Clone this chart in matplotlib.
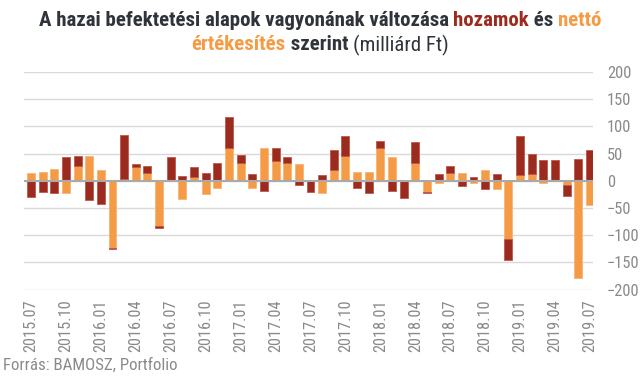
import matplotlib
matplotlib.use("Agg")
import matplotlib.pyplot as plt
from matplotlib import font_manager
import numpy as np

months = [f"{2015 + (6 + i) // 12}.{(6 + i) % 12 + 1:02d}" for i in range(49)]

# Net sales (nettó értékesítés), billion Ft
netto = [15, 16.5, 21, -23, 28, 46, 19, -124, 3, 26, 15, -84, 0, -34, 6, -25, -13.5,
         59.5, 33, -14, 60.7, 35.5, 33, 31, 0, -23, 20, 46, 17, 17, 59.5, 43, 0,
         33, -20, -5, 15, 15, -4, 19, -16, -108, 10, 11.6, -4, 0, -8.6, -178, -45]
# Returns (hozamok), billion Ft
hozam = [-30, -21.5, -23, 43, 16.7, -36, -42, -2, 82, 4, 11.5, -2, 44, 8, 18.5, 13.5, 33,
         57, 15, 11.6, -18, 25, 10, -8.6, -21.5, 10, 37.4, 37, -14, -23, 13, -19.6, -31,
         39, -2, 13, 13, -10, 6, -16, 13, -38, 73, 38, 39, 39, -20, 40.5, 56]

RED = "#9C2B1F"
ORANGE = "#F59B45"
GRAY = "#8a8a8a"
TEXT = "#2f333a"

available = {f.name for f in font_manager.fontManager.ttflist}
FAM = 'Roboto'
for cand in ['Roboto Condensed', 'Liberation Sans Narrow']:
    if cand in available:
        FAM = cand
        break
plt.rcParams['font.family'] = [FAM, 'Roboto', 'DejaVu Sans']

W, H = 640, 379
fig = plt.figure(figsize=(6.4, 3.79), dpi=100)
fig.canvas.draw()
r = fig.canvas.get_renderer()

def fit_size(s, target, weight='normal'):
    t = fig.text(0, 0, s, fontsize=10, fontweight=weight)
    w = t.get_window_extent(r).width
    t.remove()
    return 10 * target / w

tick_size = fit_size("2015.07", 52)
ytick_size = fit_size("200", 24)

ax = fig.add_axes([24 / W, 1 - 289.5 / H, (593 - 24) / W, (289.5 - 72) / H])

x = np.arange(len(months))
n = np.array(netto, dtype=float)
h = np.array(hozam, dtype=float)
# diverging stack: net sales closest to zero, returns stacked outward
bottom_h = np.where(np.sign(h) == np.sign(n), n, 0.0)
bw = 0.68
ax.bar(x, n, width=bw, color=ORANGE, edgecolor="#f8b574", linewidth=0.6, zorder=3)
ax.bar(x, h, bottom=bottom_h, width=bw, color=RED, edgecolor="#c0564a", linewidth=0.6, zorder=3)

ax.set_ylim(-200, 200)
ax.set_xlim(-0.6, 48.26)
ax.set_yticks(np.arange(-200, 201, 50))
ax.yaxis.tick_right()
ax.tick_params(axis='y', length=0, pad=10, labelsize=ytick_size, labelcolor=GRAY)
ax.grid(axis='y', color="#d9d9d9", linewidth=1, zorder=0)
ax.axhline(0, color="#aaaaaa", linewidth=1.5, zorder=4)
for s in ax.spines.values():
    s.set_visible(False)

ax.set_xticks(x[::3])
ax.set_xticklabels(months[::3], rotation=90)
ax.tick_params(axis='x', length=0, pad=7, labelsize=tick_size, labelcolor=GRAY)

# Title with coloured words
line1 = [("A hazai befektetési alapok vagyonának változása ", TEXT, 'bold'),
         ("hozamok", RED, 'bold'), (" és ", TEXT, 'bold'), ("nettó", ORANGE, 'bold')]
line2 = [("értékesítés", ORANGE, 'bold'), (" szerint ", TEXT, 'bold'),
         ("(milliárd Ft)", TEXT, 'normal')]

title_size = fit_size("".join(p[0] for p in line1), 570, 'bold')
title_size = min(title_size, 15)

def draw_line(parts, ypix, size):
    texts = []
    for s, c, w in parts:
        t = fig.text(0, 1 - ypix / H, s, color=c, fontweight=w, fontsize=size,
                     ha='left', va='center')
        texts.append(t)
    widths = [t.get_window_extent(r).width for t in texts]
    total = sum(widths)
    xs = (W - total) / 2
    for t, w_ in zip(texts, widths):
        t.set_x(xs / W)
        xs += w_

draw_line(line1, 21, title_size)
draw_line(line2, 45, title_size)

src_size = fit_size("Forrás: BAMOSZ, Portfolio", 175)
fig.text(3 / W, 1 - 365 / H, "Forrás: BAMOSZ, Portfolio", color=GRAY, fontsize=src_size,
         ha='left', va='center')

fig.savefig("out.png", dpi=100)
